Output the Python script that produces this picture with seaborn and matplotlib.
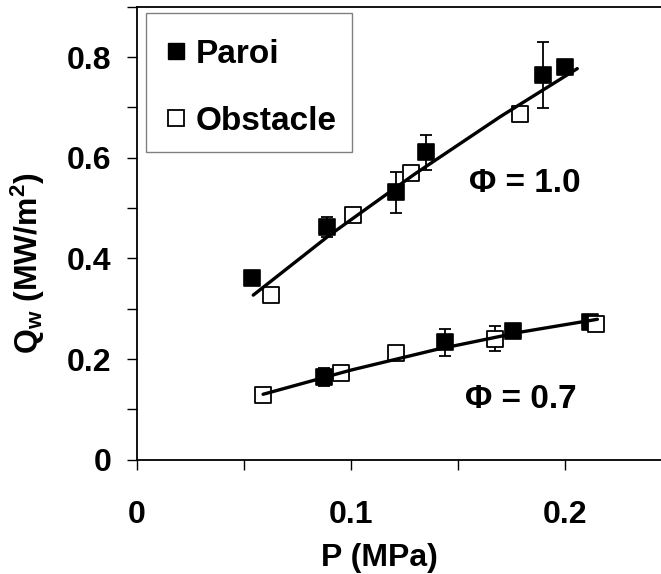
import matplotlib
matplotlib.use("Agg")
import numpy as np
import matplotlib.pyplot as plt
from matplotlib.ticker import MultipleLocator
from matplotlib.lines import Line2D
from matplotlib.patches import Rectangle
import seaborn as sns

# Data
# Phi = 1.0
paroi1_p = [0.054, 0.089, 0.121, 0.135, 0.190, 0.200]
paroi1_q = [0.361, 0.462, 0.531, 0.611, 0.764, 0.780]
paroi1_err = [0.0, 0.020, 0.041, 0.035, 0.066, 0.0]
obst1_p = [0.0625, 0.101, 0.128, 0.179]
obst1_q = [0.328, 0.487, 0.570, 0.687]
obst1_err = [0.0, 0.0, 0.0, 0.0]
fit1_p = [0.0544, 0.09, 0.13, 0.17, 0.2058]
fit1_q = [0.327, 0.446, 0.568, 0.682, 0.777]

# Phi = 0.7
paroi07_p = [0.0875, 0.144, 0.1756, 0.2116]
paroi07_q = [0.1636, 0.233, 0.256, 0.274]
paroi07_err = [0.018, 0.027, 0.0, 0.006]
obst07_p = [0.0589, 0.0954, 0.1212, 0.1674, 0.2144]
obst07_q = [0.128, 0.172, 0.213, 0.240, 0.270]
obst07_err = [0.0, 0.0, 0.012, 0.025, 0.0]
fit07_p = [0.059, 0.10, 0.14, 0.18, 0.2152]
fit07_q = [0.130, 0.178, 0.219, 0.254, 0.279]

sns.set_style("ticks")
plt.rcParams["font.family"] = ["Liberation Sans", "DejaVu Sans"]
plt.rcParams["font.weight"] = "bold"
plt.rcParams["text.color"] = "black"
plt.rcParams["axes.labelcolor"] = "black"
plt.rcParams["xtick.color"] = "black"
plt.rcParams["ytick.color"] = "black"
plt.rcParams["mathtext.fontset"] = "custom"
plt.rcParams["mathtext.rm"] = "Liberation Sans:bold"
plt.rcParams["mathtext.bf"] = "Liberation Sans:bold"
plt.rcParams["mathtext.default"] = "bf"

fig = plt.figure(figsize=(6.61, 5.74), dpi=100)
ax = fig.add_axes([0.207, 0.1991, 0.8094, 0.7892])

msize = 120

# error bars
for px, qy, er in [(paroi1_p, paroi1_q, paroi1_err), (obst1_p, obst1_q, obst1_err),
                   (paroi07_p, paroi07_q, paroi07_err), (obst07_p, obst07_q, obst07_err)]:
    px, qy, er = np.array(px), np.array(qy), np.array(er)
    m = er > 0
    ax.errorbar(px[m], qy[m], yerr=er[m], fmt="none", ecolor="black",
                elinewidth=1.3, capsize=4.5, capthick=1.3, zorder=1)

# markers
sns.scatterplot(x=paroi1_p + paroi07_p, y=paroi1_q + paroi07_q, marker="s", s=msize,
                color="black", edgecolor="black", linewidth=1.2, ax=ax, zorder=2)
sns.scatterplot(x=obst1_p + obst07_p, y=obst1_q + obst07_q, marker="s", s=msize,
                color="white", edgecolor="black", linewidth=1.3, ax=ax, zorder=2)

# trend lines
sns.lineplot(x=fit1_p, y=fit1_q, color="black", linewidth=2.4, ax=ax, zorder=3,
             estimator=None, sort=False)
sns.lineplot(x=fit07_p, y=fit07_q, color="black", linewidth=2.4, ax=ax, zorder=3,
             estimator=None, sort=False)

ax.text(0.155, 0.549, "Φ = 1.0", fontsize=24, fontweight="bold", va="center", ha="left")
ax.text(0.1535, 0.1187, "Φ = 0.7", fontsize=24, fontweight="bold", va="center", ha="left")

ax.set_xlim(0, 0.25)
ax.set_ylim(0, 0.9)
ax.xaxis.set_minor_locator(MultipleLocator(0.05))
ax.yaxis.set_minor_locator(MultipleLocator(0.1))
ax.set_xticks([0, 0.1, 0.2])
ax.set_xticklabels(["0", "0.1", "0.2"])
ax.set_yticks([0, 0.2, 0.4, 0.6, 0.8])
ax.set_yticklabels(["0", "0.2", "0.4", "0.6", "0.8"])
ax.tick_params(axis="both", which="both", direction="out", length=7, width=1.0,
               colors="black", labelsize=23)
ax.tick_params(axis="y", which="major", pad=11.5)
ax.tick_params(axis="x", which="major", pad=22)
for lab in ax.get_xticklabels() + ax.get_yticklabels():
    lab.set_fontweight("bold")

ax.spines["right"].set_visible(False)
for s in ["left", "bottom", "top"]:
    ax.spines[s].set_linewidth(1.3)
    ax.spines[s].set_color("black")

ax.set_xlabel("P (MPa)", fontsize=23, fontweight="bold")
ax.set_ylabel(r"Q$_\mathbf{w}$ (MW/m$^\mathbf{2}$)", fontsize=23, fontweight="bold")
ax.xaxis.set_label_coords(0.453, -0.183)
ax.yaxis.set_label_coords(-0.168, 0.434)

# legend: frame drawn separately so its size can match
frame = Rectangle((146.3 / 661, 1 - 152.3 / 574), (351.8 - 146.3) / 661,
                  (152.3 - 12.7) / 574, transform=fig.transFigure,
                  facecolor="white", edgecolor="#808080", linewidth=1.0, zorder=4)
fig.add_artist(frame)
handles = [
    Line2D([], [], marker="s", linestyle="none", markersize=11, markerfacecolor="black",
           markeredgecolor="black"),
    Line2D([], [], marker="s", linestyle="none", markersize=11, markerfacecolor="white",
           markeredgecolor="black", markeredgewidth=1.3),
]
leg = fig.legend(handles, ["Paroi", "Obstacle"], loc="upper left",
                 bbox_to_anchor=(162.3 / 661, 1 - 39.0 / 574), bbox_transform=fig.transFigure,
                 borderaxespad=0, prop={"weight": "bold", "size": 24},
                 handlelength=0.8, handletextpad=0.21, borderpad=0, labelspacing=1.07,
                 frameon=False)
leg.set_zorder(5)

fig.savefig("out.png", dpi=100)
